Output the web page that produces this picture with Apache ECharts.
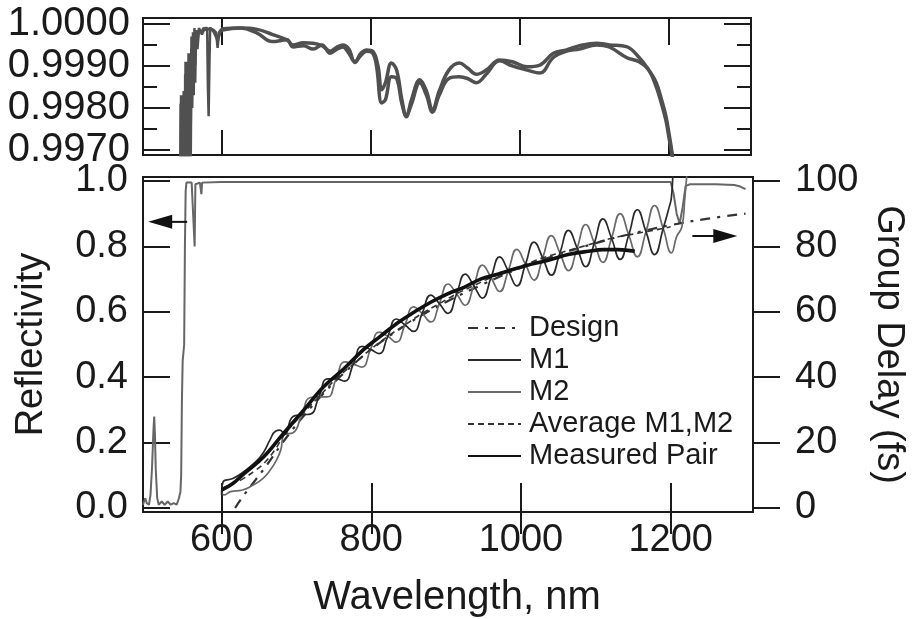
<!DOCTYPE html>
<html><head><meta charset="utf-8">
<script src="https://cdn.jsdelivr.net/npm/echarts@6/dist/echarts.min.js"></script>
<style>html,body{margin:0;padding:0;background:#fff}#c{width:914px;height:619px}</style>
</head><body><div id="c"></div>
<script>
// ---------- tick values ----------
const xTicks = [600, 800, 1000, 1200];
const topYTicks = [0.997, 0.998, 0.999, 1.0];
const topYMinor = [0.9975, 0.9985, 0.9995];
const reflTicks = [0, 0.2, 0.4, 0.6, 0.8, 1.0];
const gdTicks = [0, 20, 40, 60, 80, 100];
const legendNames = ['Design', 'M1', 'M2', 'Average M1,M2', 'Measured Pair'];

// ---------- top panel: high-reflectivity zoom (two mirrors) ----------
const topR1Spikes = [[545,0.9960],[546,0.9983],[546.5,0.9962],[547,0.9982],[547.5,0.9962],[548,0.9983],[548.5,0.9962],[549,0.9982],[549.5,0.9962],[550,0.9980],[550.5,0.9962],[551,0.9980],[551.5,0.9963],[552,0.9991],[552.5,0.9963],[553,0.9991],[553.5,0.9963],[554,0.9990],[554.5,0.9963],[555,0.9990],[555.5,0.9964],[556,0.9993],[556.5,0.9966],[557,0.9993],[557.5,0.9966],[558,0.9988],[559,0.9975],[560,0.9997],[561,0.9985],[562,0.9998],[563,0.9983],[564,0.9998],[565,0.9990],[566,0.99985],[568,0.9996],[570,0.9999],[574,0.99975],[578,0.9999],[581,0.9999],[582,0.9985],[583,0.9978],[584,0.9990],[585,0.9999],[590,0.99985],[593,0.9998],[595,0.99943],[597,0.9998],[600,0.99988]];
const topR2Spikes = [[545,0.9961],[545.5,0.9981],[546,0.9961],[546.5,0.9980],[547,0.9961],[547.5,0.9979],[548,0.9961],[548.5,0.9979],[549,0.9963],[549.5,0.9984],[550,0.9963],[550.5,0.9984],[551,0.9962],[551.5,0.9988],[552,0.9962],[552.5,0.9988],[553,0.9964],[553.5,0.9986],[554,0.9964],[554.5,0.9986],[555,0.9963],[555.5,0.9990],[556,0.9963],[556.5,0.9990],[557,0.9965],[558,0.9985],[559,0.9968],[560,0.9994],[561,0.9980],[562,0.9996],[563,0.9988],[564,0.9999],[565,0.9986],[566,0.9998],[568,0.9994],[570,0.99985],[573,0.9998],[576,0.9999],[580,0.99985],[585,0.9999],[590,0.9998],[595,0.9996],[600,0.99985]];
const topR1 = [[600,0.99988],[625,0.99990],[648,0.99987],[668,0.99975],[688,0.99962],[696,0.99950],[710,0.99955],[723,0.99954],[735,0.99948],[746,0.99935],[755,0.99945],[763,0.9995],[771,0.9994],[779,0.99908],[787,0.9993],[795,0.99938],[803,0.99935],[810,0.9990],[815,0.99843],[820,0.9986],[828,0.99907],[835,0.9989],[842,0.9982],[848,0.99779],[855,0.9982],[866,0.99867],[875,0.9984],[883,0.99795],[892,0.9984],[905,0.9989],[919,0.99907],[930,0.99895],[942,0.9988],[955,0.9989],[973,0.99914],[990,0.9991],[1010,0.99898],[1027,0.99902],[1045,0.9993],[1063,0.99938],[1080,0.99948],[1103,0.99954],[1120,0.9995],[1143,0.99946],[1160,0.9992],[1173,0.9989],[1183,0.9986],[1190,0.9982],[1196,0.9978],[1200,0.9974],[1204,0.99695],[1206,0.9966]];
const topR2 = [[600,0.99985],[625,0.9999],[648,0.99978],[668,0.99958],[688,0.99962],[696,0.99945],[710,0.99948],[723,0.9994],[735,0.9995],[746,0.9993],[755,0.9994],[763,0.99945],[771,0.9993],[779,0.9991],[787,0.99925],[795,0.99935],[803,0.9993],[808,0.9990],[815,0.99812],[820,0.9982],[828,0.99874],[835,0.9987],[842,0.9981],[848,0.99782],[855,0.9981],[866,0.9986],[875,0.9983],[883,0.99790],[892,0.9983],[905,0.9987],[919,0.99874],[930,0.9987],[942,0.9986],[955,0.9988],[973,0.99912],[990,0.9990],[1010,0.9989],[1027,0.99883],[1045,0.9992],[1063,0.99935],[1080,0.9994],[1103,0.9995],[1120,0.99945],[1143,0.9992],[1160,0.9991],[1173,0.9989],[1183,0.9985],[1190,0.9981],[1196,0.9977],[1200,0.9973],[1204,0.9969],[1206,0.9966]];

// ---------- main panel: reflectivity (left axis) ----------
const reflectivity = [[495,0.01],[498,0.03],[500,0.015],[503,0.01],[505,0.04],[507,0.12],[509,0.24],[510,0.28],[511,0.22],[512,0.12],[514,0.03],[516,0.01],[520,0.02],[524,0.01],[528,0.02],[532,0.01],[536,0.015],[540,0.01],[543,0.03],[545,0.05],[546,0.1],[547,0.33],[548,0.45],[550,0.5],[551,0.8],[552,0.97],[553,0.995],[560,0.995],[562,0.99],[564,0.80],[565,0.99],[571,0.995],[572,0.99],[573,0.96],[574,0.995],[600,0.997],[700,0.997],[800,0.997],[900,0.997],[1000,0.997],[1100,0.997],[1200,0.997],[1204,0.96],[1208,0.90],[1212,0.87],[1216,0.92],[1220,0.985],[1226,0.99],[1260,0.99],[1285,0.988],[1293,0.983],[1300,0.975]];

// ---------- main panel: group delay (right axis, fs) ----------
const design = [[618,0],[630,4],[645,8.5],[660,13],[680,19.5],[700,25.5],[730,33.5],[760,40.5],[800,48.5],[850,56.5],[900,63],[950,68.5],[1000,73.5],[1050,77.5],[1100,81],[1150,84],[1200,86.5],[1250,88.5],[1300,90]];
const m1 = [[600,4],[602,8],[615,9],[629,11],[645,14],[656,17],[665,21],[672,23.5],[678,23.8],[684,22.5],[695.5,28],[707,28.5],[718.5,28.7],[730,34],[741.5,39.5],[753,39.5],[764.5,38.8],[776,44],[787.5,49.4],[799,48.5],[810.5,47.2],[822,52.5],[833.5,57.8],[845,56],[856.5,54],[868,59.5],[879.5,65.1],[891,62.5],[902.5,59.5],[914,65.5],[925.5,71.5],[937,68],[948.5,64.2],[960,70.5],[971.5,76.8],[983,72.5],[994.5,67.9],[1006,74.5],[1017.5,81.3],[1029,76.5],[1040.5,71.2],[1052,78],[1063.5,84.9],[1075,79.5],[1086.5,73.8],[1098,81],[1109.5,88.4],[1121,82.5],[1132.5,76],[1144,83.5],[1155.5,91.2],[1167,84.5],[1178.5,77.5],[1190,85.5],[1198,92],[1201,95],[1203,103]];
const m2 = [[600,5],[603,4],[612,5],[628,5.5],[642,7],[655,9],[665,11.6],[673,14.5],[679,17.7],[684,22.5],[695.5,23],[707,28.5],[718.5,33.8],[730,34],[741.5,34],[753,39.5],[764.5,44.7],[776,44],[787.5,43.1],[799,48.5],[810.5,53.8],[822,52.5],[833.5,50.7],[845,56],[856.5,61.5],[868,59.5],[879.5,56.9],[891,62.5],[902.5,68.5],[914,65.5],[925.5,62],[937,68],[948.5,74.3],[960,70.5],[971.5,66.2],[983,72.5],[994.5,79.1],[1006,74.5],[1017.5,69.7],[1029,76.5],[1040.5,83.3],[1052,78],[1063.5,72.6],[1075,79.5],[1086.5,86.7],[1098,81],[1109.5,75.1],[1121,82.5],[1132.5,90],[1144,83.5],[1155.5,76.8],[1167,84.5],[1178.5,92.5],[1190,85.5],[1201,78],[1208,83],[1215,86],[1219,95],[1222,103]];
const avgM = [[600,6],[615,7.5],[629,9],[645,11.5],[656,13.5],[672,18],[684,22.5],[707,28.5],[730,34],[753,39.5],[776,44],[799,48.5],[822,52.5],[845,56],[868,59.5],[891,62.5],[914,65.5],[937,68],[960,70.5],[983,72.5],[1006,74.5],[1029,76.5],[1052,78],[1075,79.5],[1098,81],[1121,82.5],[1144,83.5],[1167,84.5],[1190,85.5],[1200,86]];
const measured = [[600,5.5],[615,7.5],[630,10.5],[656,15.6],[683,22.9],[710,30],[736,37],[763,42.5],[790,48.5],[812,52.5],[835,56.6],[858,60],[880,63],[902,65.5],[924,67.5],[946,70],[969,71.5],[990,73],[1013,74.5],[1040,76],[1063,77.5],[1090,78.5],[1110,79],[1130,79],[1152,78.5]];

// annotation arrows (data coordinates: tail point, head point)
const leftArrow = [[554, 0.875], [518, 0.875]];
const rightArrow = [[1229, 83.2], [1273, 83.2]];

const FONT = '"Liberation Sans", Arial, sans-serif';
const INK = '#1a1a1a';
const X_MIN = 495, X_MAX = 1310;

function xAx(grid, pos, len, labels) {
  return {
    type: 'value', gridIndex: grid, position: pos, min: X_MIN, max: X_MAX,
    axisLine: { show: false },
    splitLine: { show: false },
    axisTick: { show: true, inside: true, length: len, customValues: xTicks, lineStyle: { color: INK, width: 2 } },
    axisLabel: labels ? { show: true, customValues: xTicks, fontSize: 38, color: INK, fontFamily: FONT, margin: 10, formatter: v => String(Math.round(v)) } : { show: false }
  };
}
function yAx(grid, pos, min, max, ticks, len, inside, label) {
  const o = {
    type: 'value', gridIndex: grid, position: pos, min: min, max: max,
    axisLine: { show: false }, splitLine: { show: false },
    axisTick: { show: true, inside: inside, length: len, customValues: ticks, lineStyle: { color: INK, width: 2 } },
    axisLabel: { show: false }
  };
  if (label) o.axisLabel = Object.assign({ show: true, customValues: ticks, color: INK, fontFamily: FONT }, label);
  return o;
}

const xAxes = [
  xAx(0, 'bottom', 25, false),
  xAx(0, 'top', 27, false),
  Object.assign(xAx(1, 'bottom', 25, true), {
    name: 'Wavelength, nm', nameLocation: 'middle', nameGap: 66,
    nameTextStyle: { fontSize: 40, color: INK, fontFamily: FONT, padding: [0, 0, 0, 18] }
  }),
  xAx(1, 'top', 26, false)
];

const yAxes = [
  yAx(0, 'left', 0.99688, 1.00014, topYTicks, 27, true, { fontSize: 40, margin: 13, formatter: v => Number(v).toFixed(4) }),
  yAx(0, 'left', 0.99688, 1.00014, topYMinor, 14, true, null),
  yAx(0, 'right', 0.99688, 1.00014, topYTicks, 27, true, null),
  yAx(0, 'right', 0.99688, 1.00014, topYMinor, 14, true, null),
  Object.assign(yAx(1, 'left', -0.0122, 1.0122, reflTicks, 27, true, { fontSize: 38, margin: 15, formatter: v => Number(v).toFixed(1) }), {
    name: 'Reflectivity', nameLocation: 'middle', nameGap: 92, nameRotate: 90,
    nameTextStyle: { fontSize: 38, color: INK, fontFamily: FONT }
  }),
  Object.assign(yAx(1, 'right', -1.22, 101.22, gdTicks, 27, false, { fontSize: 38, margin: 42, formatter: v => String(Math.round(v)) }), {
    name: 'Group Delay (fs)', nameLocation: 'middle', nameGap: 110, nameRotate: -90,
    nameTextStyle: { fontSize: 38, color: INK, fontFamily: FONT }
  })
];

function line(name, data, xi, yi, style, smooth, extra) {
  return Object.assign({
    type: 'line', name: name, data: data, xAxisIndex: xi, yAxisIndex: yi,
    showSymbol: false, symbol: 'none', smooth: smooth, clip: true, silent: true,
    lineStyle: style, itemStyle: { color: style.color, opacity: 0 }, emphasis: { disabled: true }
  }, extra || {});
}
function arrowSeries(pts, yi, rot) {
  return {
    type: 'line', xAxisIndex: 2, yAxisIndex: yi, silent: true, clip: false,
    showSymbol: true, showAllSymbol: true,
    lineStyle: { color: '#111', width: 2 },
    itemStyle: { color: '#111' },
    emphasis: { disabled: true },
    data: [
      { value: pts[0], symbol: 'none' },
      { value: pts[1], symbol: 'triangle', symbolSize: [14, 24], symbolRotate: rot }
    ]
  };
}

const series = [
  line('R1s', topR1Spikes, 0, 0, { color: '#505050', width: 2.5 }, false),
  line('R2s', topR2Spikes, 0, 0, { color: '#505050', width: 2.5 }, false),
  line('R1', topR1, 0, 0, { color: '#505050', width: 3.5 }, 0.4),
  line('R2', topR2, 0, 0, { color: '#505050', width: 3.5 }, 0.4),
  line('Reflectivity', reflectivity, 2, 4, { color: '#666', width: 2 }, false),
  line('Design', design, 2, 5, { color: '#333', width: 2.2, type: [10, 7, 3, 7] }, 0.4),
  line('M2', m2, 2, 5, { color: '#6a6a6a', width: 1.7 }, 0.5),
  line('M1', m1, 2, 5, { color: '#2a2a2a', width: 1.7 }, 0.5),
  line('Average M1,M2', avgM, 2, 5, { color: '#333', width: 1.6, type: [6, 4] }, 0.4),
  line('Measured Pair', measured, 2, 5, { color: '#111', width: 3.6 }, 0.4),
  arrowSeries(leftArrow, 4, 90),
  arrowSeries(rightArrow, 5, -90)
];

const chart = echarts.init(document.getElementById('c'), null, { renderer: 'canvas' });
chart.setOption({
  animation: false,
  backgroundColor: '#fff',
  textStyle: { fontFamily: FONT },
  grid: [
    { left: 143, right: 163, top: 18, height: 137, show: true, borderColor: INK, borderWidth: 2, backgroundColor: 'transparent', outerBoundsMode: 'none', containLabel: false },
    { left: 143, right: 161, top: 177, height: 335, show: true, borderColor: INK, borderWidth: 2, backgroundColor: 'transparent', outerBoundsMode: 'none', containLabel: false }
  ],
  xAxis: xAxes,
  yAxis: yAxes,
  legend: {
    data: legendNames, orient: 'vertical', left: 462, top: 307,
    itemWidth: 53, itemHeight: 14, itemGap: 0, selectedMode: false,
    itemStyle: { opacity: 0 },
    textStyle: { fontSize: 29, color: INK, fontFamily: FONT, lineHeight: 32, padding: [0, 0, 0, 3] }
  },
  series: series
});
</script>
</body></html>
